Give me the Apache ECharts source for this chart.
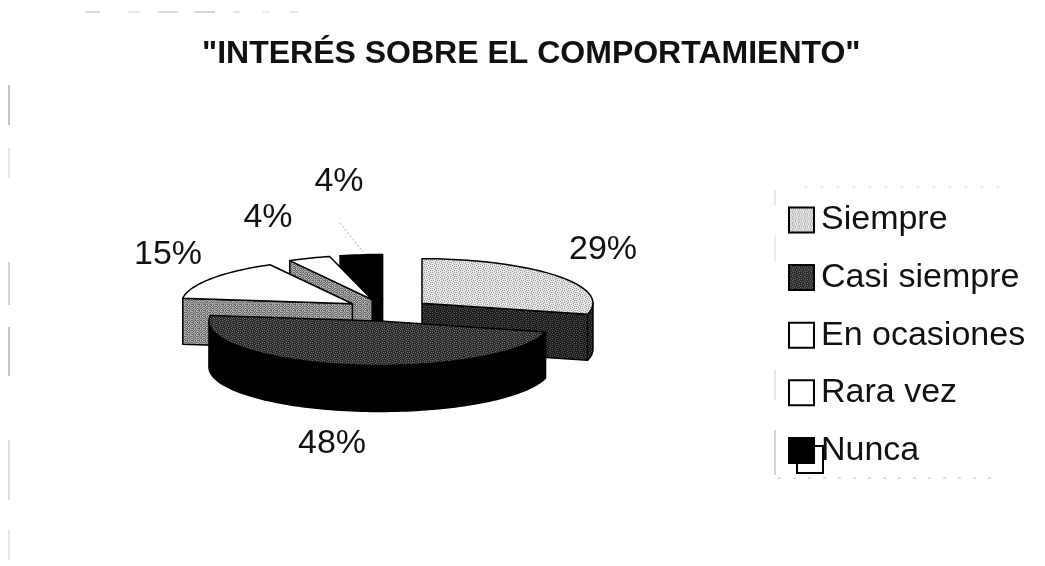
<!DOCTYPE html>
<html>
<head>
<meta charset="utf-8">
<title>Interés sobre el comportamiento</title>
<script src="https://cdn.jsdelivr.net/npm/echarts@6/dist/echarts.min.js"></script>
<style>
  html, body { margin: 0; padding: 0; background: #fff; }
  #chart { width: 1045px; height: 566px; }
</style>
</head>
<body>
<div id="chart"></div>
<script>
// data
var categories = ['Siempre', 'Casi siempre', 'En ocasiones', 'Rara vez', 'Nunca'];
var percents = [29, 48, 15, 4, 4];
var chartTitle = '"INTERÉS SOBRE EL COMPORTAMIENTO"';

// slices are painted back to front
var paintOrder = [4, 3, 2, 0, 1];

// fake 3d pie geometry
var pie = { cx: 388, cy: 310, rx: 171, squash: 0.26, depth: 46, explode: 43 };
var labelSpots = [[603, 250], [332, 444], [168, 255], [268, 218], [339, 182]];

// dithered fill like the scan, fixed tile so nothing is random
function dither(bg, fg, rows) {
  var c = document.createElement('canvas');
  c.width = rows[0].length;
  c.height = rows.length;
  var ctx = c.getContext('2d');
  ctx.fillStyle = bg;
  ctx.fillRect(0, 0, c.width, c.height);
  ctx.fillStyle = fg;
  rows.forEach(function (row, y) {
    for (var x = 0; x < row.length; x++) {
      if (row[x] === '#') ctx.fillRect(x, y, 1, 1);
    }
  });
  return { image: c, repeat: 'repeat' };
}
var tileA = ['#...#.', '..#...', '#...#.', '...#..', '.#...#', '...#..'];
var tileB = ['#.#.##', '.#.#..', '#.##.#', '.#..#.', '##.#.#', '.#.#..'];
var lightFill = dither('#e6e6e6', '#9a9a9a', tileA);
var darkFill = dither('#2c2c2c', '#6e6e6e', tileA);
var wallDark = dither('#1c1c1c', '#555555', tileA);
var grayFill = dither('#b0b0b0', '#6a6a6a', tileB);

var topFill = [lightFill, darkFill, '#ffffff', '#ffffff', '#000000'];
var wallFill = [wallDark, '#000000', grayFill, grayFill, '#000000'];
var legendFill = [lightFill, darkFill, '#ffffff', '#ffffff', '#000000'];

// start and end angle of each slice, clockwise from 12 o'clock
var total = percents.reduce(function (a, b) { return a + b; }, 0);
var angles = [];
percents.reduce(function (acc, v) {
  angles.push([acc / total * 2 * Math.PI, (acc + v) / total * 2 * Math.PI]);
  return acc + v;
}, 0);

function arcPoints(ox, oy, a0, a1, dy) {
  var pts = [];
  var n = Math.max(2, Math.ceil((a1 - a0) / 0.03));
  for (var i = 0; i <= n; i++) {
    var a = a0 + (a1 - a0) * i / n;
    pts.push([ox + Math.sin(a) * pie.rx, oy - Math.cos(a) * pie.rx * pie.squash + dy]);
  }
  return pts;
}

function poly(points, fill, stroke) {
  return {
    type: 'polygon',
    shape: { points: points },
    style: { fill: fill, stroke: stroke || '#000', lineWidth: 1.5, lineJoin: 'round' }
  };
}

function renderSlice(idx) {
  var a0 = angles[idx][0], a1 = angles[idx][1];
  var mid = (a0 + a1) / 2;
  var ox = pie.cx + Math.sin(mid) * pie.explode;
  var oy = pie.cy - Math.cos(mid) * pie.explode * pie.squash;
  var kids = [];

  // flat wall under a straight edge, only the one that looks at the viewer
  function radialWall(a) {
    var p = arcPoints(ox, oy, a, a, 0)[0];
    kids.push(poly([[ox, oy], p, [p[0], p[1] + pie.depth], [ox, oy + pie.depth]], wallFill[idx]));
  }
  if (Math.sin(a0) < 0) radialWall(a0);
  if (Math.sin(a1) > 0) radialWall(a1);

  // curved wall where the rim faces front
  var f0 = Math.max(a0, Math.PI / 2), f1 = Math.min(a1, Math.PI * 1.5);
  if (f1 > f0) {
    var top = arcPoints(ox, oy, f0, f1, 0);
    var bottom = arcPoints(ox, oy, f0, f1, pie.depth).reverse();
    kids.push(poly(top.concat(bottom), wallFill[idx]));
  }

  kids.push(poly([[ox, oy]].concat(arcPoints(ox, oy, a0, a1, 0)), topFill[idx]));

  kids.push({
    type: 'text',
    style: {
      text: percents[idx] + '%',
      x: labelSpots[idx][0],
      y: labelSpots[idx][1],
      fill: '#111',
      font: '34px "Liberation Sans", Arial, sans-serif',
      align: 'center',
      verticalAlign: 'middle'
    }
  });
  return { type: 'group', children: kids };
}

var series = paintOrder.map(function (idx) {
  return {
    name: categories[idx],
    type: 'custom',
    coordinateSystem: 'none',
    silent: true,
    z: 2,
    itemStyle: { color: legendFill[idx] },
    data: [percents[idx]],
    renderItem: function () { return renderSlice(idx); }
  };
});

// scan marks round the page: [x1, y1, x2, y2, colour]
var scanMarks = [
  [9, 85, 9, 125, '#888'], [9, 148, 9, 178, '#ccc'], [9, 262, 9, 305, '#aaa'], [9, 327, 9, 376, '#888'],
  [9, 440, 9, 500, '#bbb'], [9, 530, 9, 560, '#ccc'],
  [775, 190, 775, 205, '#ccc'], [775, 235, 775, 262, '#ddd'], [775, 370, 775, 400, '#ccc'], [775, 430, 775, 475, '#aaa'],
  [85, 12, 100, 12, '#bbb'], [128, 12, 140, 12, '#ccc'], [158, 12, 178, 12, '#bbb'], [195, 12, 215, 12, '#aaa'],
  [233, 12, 240, 12, '#ccc'], [262, 12, 270, 12, '#ddd'], [290, 12, 298, 12, '#ccc']
];

var option = {
  animation: false,
  backgroundColor: '#fff',
  title: {
    text: chartTitle,
    left: 202,
    top: 38,
    padding: 0,
    textStyle: {
      color: '#111',
      fontFamily: '"Liberation Sans", Arial, sans-serif',
      fontSize: 32,
      fontWeight: 'bold'
    }
  },
  legend: {
    orient: 'vertical',
    left: 788,
    top: 203,
    padding: 0,
    itemWidth: 25,
    itemHeight: 25,
    itemGap: 23.6,
    icon: 'rect',
    selectedMode: false,
    data: categories,
    itemStyle: { borderColor: '#000', borderWidth: 2 },
    textStyle: {
      color: '#111',
      fontFamily: '"Liberation Sans", Arial, sans-serif',
      fontSize: 34,
      lineHeight: 31,
      padding: [0, 0, 0, 2]
    }
  },
  graphic: [
    // stray box behind the last legend key and the faint leader line
    { type: 'rect', z: 1, shape: { x: 797, y: 446, width: 26, height: 27 }, style: { fill: '#fff', stroke: '#000', lineWidth: 2 } },
    { type: 'line', z: 1, shape: { x1: 340, y1: 223, x2: 363, y2: 252 }, style: { stroke: '#aaa', lineWidth: 1, lineDash: [2, 2] } },
    { type: 'line', z: 1, shape: { x1: 778, y1: 478, x2: 1000, y2: 478 }, style: { stroke: '#bbb', lineWidth: 1, lineDash: [3, 12] } },
    { type: 'line', z: 1, shape: { x1: 805, y1: 187, x2: 1000, y2: 187 }, style: { stroke: '#ccc', lineWidth: 1, lineDash: [2, 14] } }
  ].concat(scanMarks.map(function (m) {
    return { type: 'line', z: 1, shape: { x1: m[0], y1: m[1], x2: m[2], y2: m[3] }, style: { stroke: m[4], lineWidth: 1 } };
  })),
  series: series
};

echarts.init(document.getElementById('chart')).setOption(option);
</script>
</body>
</html>
